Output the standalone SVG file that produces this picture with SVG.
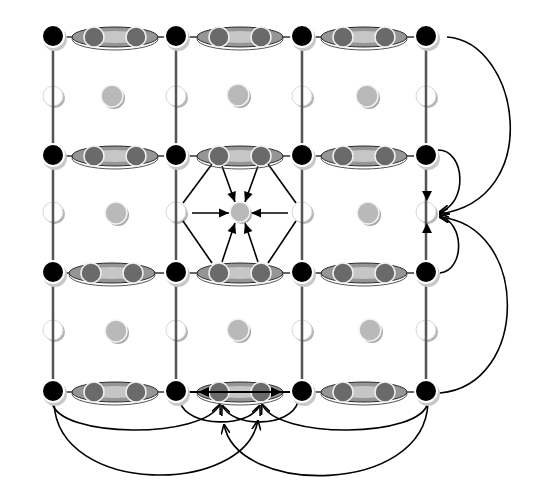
<svg xmlns="http://www.w3.org/2000/svg" width="544" height="487" viewBox="0 0 544 487">
<defs>
<style>
.sh{fill:#c8c8c8}
.blk{fill:#000;stroke:#fff;stroke-width:2}
.opn{fill:#fff;stroke:#d8d8d8;stroke-width:1}
.osh{fill:#b4b4b4}
.gry{fill:#b9b9b9;stroke:#f4f4f4;stroke-width:1.5}
.gsh{fill:#a9a9a9}
.inn{fill:#6a6a6a;stroke:#f0f0f0;stroke-width:1.5}
.ell{fill:#959595;stroke:#2a2a2a;stroke-width:1}
.ells{fill:none;stroke:#555;stroke-width:1}
.band{fill:#c6c6c6;stroke:none}
.col{stroke:#555;stroke-width:2.5;fill:none}
.row{stroke:#333;stroke-width:1.5;fill:none}
.arr{stroke:#000;stroke-width:1.6;fill:none}
</style>
<marker id="fa" viewBox="0 0 10 10" refX="10" refY="5" markerWidth="11" markerHeight="10" markerUnits="userSpaceOnUse" orient="auto"><path d="M0,0.5 L10,5 L0,9.5 z" fill="#000"/></marker>
<marker id="oa" viewBox="0 0 10 10" refX="10" refY="5" markerWidth="10" markerHeight="10" markerUnits="userSpaceOnUse" orient="auto"><path d="M0,0.5 L10,5 L0,9.5" fill="none" stroke="#000" stroke-width="1.6"/></marker>
</defs>
<rect width="544" height="487" fill="#fff"/>

<!-- open (white) circles -->
<g id="open-nodes">
<g id="o00"><circle class="osh" cx="55" cy="98" r="10"/><circle class="opn" cx="53" cy="96" r="10"/></g>
<g id="o01"><circle class="osh" cx="178" cy="98" r="10"/><circle class="opn" cx="176" cy="96" r="10"/></g>
<g id="o02"><circle class="osh" cx="304" cy="98" r="10"/><circle class="opn" cx="302" cy="96" r="10"/></g>
<g id="o03"><circle class="osh" cx="428" cy="98" r="10"/><circle class="opn" cx="426" cy="96" r="10"/></g>
<g id="o10"><circle class="osh" cx="55" cy="214" r="10"/><circle class="opn" cx="53" cy="212" r="10"/></g>
<g id="o11"><circle class="osh" cx="178" cy="214" r="10"/><circle class="opn" cx="176" cy="212" r="10"/></g>
<g id="o12"><circle class="osh" cx="304" cy="214" r="10"/><circle class="opn" cx="302" cy="212" r="10"/></g>
<g id="o13"><circle class="osh" cx="428" cy="214" r="10"/><circle class="opn" cx="426" cy="212" r="10"/></g>
<g id="o20"><circle class="osh" cx="55" cy="332" r="10"/><circle class="opn" cx="53" cy="330" r="10"/></g>
<g id="o21"><circle class="osh" cx="178" cy="332" r="10"/><circle class="opn" cx="176" cy="330" r="10"/></g>
<g id="o22"><circle class="osh" cx="304" cy="332" r="10"/><circle class="opn" cx="302" cy="330" r="10"/></g>
<g id="o23"><circle class="osh" cx="428" cy="332" r="10"/><circle class="opn" cx="426" cy="330" r="10"/></g>
</g>

<!-- connectors -->
<g id="connectors">
<g id="grid">
<line class="col" x1="53" y1="36" x2="53" y2="391"/>
<line class="col" x1="176" y1="36" x2="176" y2="391"/>
<line class="col" x1="302" y1="36" x2="302" y2="391"/>
<line class="col" x1="426" y1="36" x2="426" y2="391"/>
<line class="row" x1="53" y1="37" x2="426" y2="37"/>
<line class="row" x1="53" y1="156" x2="426" y2="156"/>
<line class="row" x1="53" y1="273" x2="426" y2="273"/>
<line class="row" x1="53" y1="392" x2="426" y2="392"/>
</g>
<g id="hexagon">
<line class="arr" x1="212" y1="164" x2="183" y2="203"/>
<line class="arr" x1="268" y1="164" x2="296" y2="203"/>
<line class="arr" x1="183" y1="221" x2="212" y2="263"/>
<line class="arr" x1="296" y1="221" x2="268" y2="263"/>
<line class="arr" x1="222" y1="166" x2="235" y2="202" marker-end="url(#fa)"/>
<line class="arr" x1="258" y1="166" x2="245" y2="202" marker-end="url(#fa)"/>
<line class="arr" x1="192" y1="213" x2="229" y2="213" marker-end="url(#fa)"/>
<line class="arr" x1="288" y1="213" x2="251" y2="213" marker-end="url(#fa)"/>
<line class="arr" x1="222" y1="262" x2="235" y2="223" marker-end="url(#fa)"/>
<line class="arr" x1="258" y1="262" x2="245" y2="223" marker-end="url(#fa)"/>
</g>
<g id="right-curves">
<path class="arr" d="M447,37 C520,42 545,200 439,214" marker-end="url(#oa)"/>
<path class="arr" d="M438,150 C466,150 468,205 439,212" marker-end="url(#oa)"/>
<path class="arr" d="M440,273 C465,270 465,222 439,216" marker-end="url(#oa)"/>
<path class="arr" d="M440,393 C530,385 530,225 439,217" marker-end="url(#oa)"/>
<polygon points="422,191 432,191 427,201" fill="#000"/>
<polygon points="422,233 432,233 427,223" fill="#000"/>
</g>
<g id="bottom-curves">
<path class="arr" d="M52,402 C58,439 205,439 220,404" marker-end="url(#oa)"/>
<path class="arr" d="M54,403 C58,496 245,496 258,420" marker-end="url(#oa)"/>
<path class="arr" d="M428,402 C422,439 276,439 262,404" marker-end="url(#oa)"/>
<path class="arr" d="M428,403 C424,496 236,496 224,424" marker-end="url(#oa)"/>
<path class="arr" d="M180,402 C188,428 250,428 260,405" marker-end="url(#oa)"/>
<path class="arr" d="M298,402 C290,428 232,428 222,405" marker-end="url(#oa)"/>
</g>
</g>

<!-- edge ellipses (bodies) -->
<g id="ellipses">
<g id="e00"><ellipse class="ells" cx="115" cy="39" rx="43" ry="11"/><ellipse class="ell" cx="115" cy="37" rx="43" ry="10"/><ellipse class="band" cx="115" cy="37" rx="30" ry="6"/></g>
<g id="e01"><ellipse class="ells" cx="240" cy="39" rx="43" ry="11"/><ellipse class="ell" cx="240" cy="37" rx="43" ry="10"/><ellipse class="band" cx="240" cy="37" rx="30" ry="6"/></g>
<g id="e02"><ellipse class="ells" cx="364" cy="39" rx="43" ry="11"/><ellipse class="ell" cx="364" cy="37" rx="43" ry="10"/><ellipse class="band" cx="364" cy="37" rx="30" ry="6"/></g>
<g id="e10"><ellipse class="ells" cx="115" cy="158" rx="43" ry="11"/><ellipse class="ell" cx="115" cy="156" rx="43" ry="10"/><ellipse class="band" cx="115" cy="156" rx="30" ry="6"/></g>
<g id="e11"><ellipse class="ells" cx="240" cy="158" rx="43" ry="11"/><ellipse class="ell" cx="240" cy="156" rx="43" ry="10"/><ellipse class="band" cx="240" cy="156" rx="30" ry="6"/></g>
<g id="e12"><ellipse class="ells" cx="364" cy="158" rx="43" ry="11"/><ellipse class="ell" cx="364" cy="156" rx="43" ry="10"/><ellipse class="band" cx="364" cy="156" rx="30" ry="6"/></g>
<g id="e20"><ellipse class="ells" cx="112" cy="275" rx="43" ry="11"/><ellipse class="ell" cx="112" cy="273" rx="43" ry="10"/><ellipse class="band" cx="112" cy="273" rx="30" ry="6"/></g>
<g id="e21"><ellipse class="ells" cx="240" cy="275" rx="43" ry="11"/><ellipse class="ell" cx="240" cy="273" rx="43" ry="10"/><ellipse class="band" cx="240" cy="273" rx="30" ry="6"/></g>
<g id="e22"><ellipse class="ells" cx="364" cy="275" rx="43" ry="11"/><ellipse class="ell" cx="364" cy="273" rx="43" ry="10"/><ellipse class="band" cx="364" cy="273" rx="30" ry="6"/></g>
<g id="e30"><ellipse class="ells" cx="115" cy="394" rx="43" ry="11"/><ellipse class="ell" cx="115" cy="392" rx="43" ry="10"/><ellipse class="band" cx="115" cy="392" rx="30" ry="6"/></g>
<g id="e31"><ellipse class="ells" cx="240" cy="394" rx="43" ry="11"/><ellipse class="ell" cx="240" cy="392" rx="43" ry="10"/><ellipse class="band" cx="240" cy="392" rx="30" ry="6"/></g>
<g id="e32"><ellipse class="ells" cx="364" cy="394" rx="43" ry="11"/><ellipse class="ell" cx="364" cy="392" rx="43" ry="10"/><ellipse class="band" cx="364" cy="392" rx="30" ry="6"/></g>
</g>

<!-- inner (edge) circles -->
<g id="edge-nodes">
<g id="i00a"><circle class="inn" cx="94" cy="37" r="10"/></g><g id="i00b"><circle class="inn" cx="136" cy="37" r="10"/></g>
<g id="i01a"><circle class="inn" cx="219" cy="37" r="10"/></g><g id="i01b"><circle class="inn" cx="261" cy="37" r="10"/></g>
<g id="i02a"><circle class="inn" cx="343" cy="37" r="10"/></g><g id="i02b"><circle class="inn" cx="385" cy="37" r="10"/></g>
<g id="i10a"><circle class="inn" cx="94" cy="156" r="10"/></g><g id="i10b"><circle class="inn" cx="136" cy="156" r="10"/></g>
<g id="i11a"><circle class="inn" cx="219" cy="156" r="10"/></g><g id="i11b"><circle class="inn" cx="261" cy="156" r="10"/></g>
<g id="i12a"><circle class="inn" cx="343" cy="156" r="10"/></g><g id="i12b"><circle class="inn" cx="385" cy="156" r="10"/></g>
<g id="i20a"><circle class="inn" cx="91" cy="273" r="10"/></g><g id="i20b"><circle class="inn" cx="133" cy="273" r="10"/></g>
<g id="i21a"><circle class="inn" cx="219" cy="273" r="10"/></g><g id="i21b"><circle class="inn" cx="261" cy="273" r="10"/></g>
<g id="i22a"><circle class="inn" cx="343" cy="273" r="10"/></g><g id="i22b"><circle class="inn" cx="385" cy="273" r="10"/></g>
<g id="i30a"><circle class="inn" cx="94" cy="392" r="10"/></g><g id="i30b"><circle class="inn" cx="136" cy="392" r="10"/></g>
<g id="i31a"><circle class="inn" cx="219" cy="392" r="10"/></g><g id="i31b"><circle class="inn" cx="261" cy="392" r="10"/></g>
<g id="i32a"><circle class="inn" cx="343" cy="392" r="10"/></g><g id="i32b"><circle class="inn" cx="385" cy="392" r="10"/></g>
</g>

<!-- double-headed edge arrow on bottom row, cell 2 -->
<g id="bottom-edge-arrow">
<line stroke="#000" stroke-width="2.2" x1="186" y1="392" x2="292" y2="392"/>
<polygon points="198,392 209,387 209,397" fill="#000"/>
<polygon points="282,392 271,387 271,397" fill="#000"/>
</g>

<!-- black vertex nodes -->
<g id="vertex-nodes">
<g id="v00"><circle class="sh" cx="55" cy="39" r="12"/><circle class="blk" cx="53" cy="36" r="11"/></g>
<g id="v01"><circle class="sh" cx="178" cy="39" r="12"/><circle class="blk" cx="176" cy="36" r="11"/></g>
<g id="v02"><circle class="sh" cx="304" cy="39" r="12"/><circle class="blk" cx="302" cy="36" r="11"/></g>
<g id="v03"><circle class="sh" cx="428" cy="39" r="12"/><circle class="blk" cx="426" cy="36" r="11"/></g>
<g id="v10"><circle class="sh" cx="55" cy="158" r="12"/><circle class="blk" cx="53" cy="155" r="11"/></g>
<g id="v11"><circle class="sh" cx="178" cy="158" r="12"/><circle class="blk" cx="176" cy="155" r="11"/></g>
<g id="v12"><circle class="sh" cx="304" cy="158" r="12"/><circle class="blk" cx="302" cy="155" r="11"/></g>
<g id="v13"><circle class="sh" cx="428" cy="158" r="12"/><circle class="blk" cx="426" cy="155" r="11"/></g>
<g id="v20"><circle class="sh" cx="55" cy="275" r="12"/><circle class="blk" cx="53" cy="272" r="11"/></g>
<g id="v21"><circle class="sh" cx="178" cy="275" r="12"/><circle class="blk" cx="176" cy="272" r="11"/></g>
<g id="v22"><circle class="sh" cx="304" cy="275" r="12"/><circle class="blk" cx="302" cy="272" r="11"/></g>
<g id="v23"><circle class="sh" cx="428" cy="275" r="12"/><circle class="blk" cx="426" cy="272" r="11"/></g>
<g id="v30"><circle class="sh" cx="55" cy="394" r="12"/><circle class="blk" cx="53" cy="391" r="11"/></g>
<g id="v31"><circle class="sh" cx="178" cy="394" r="12"/><circle class="blk" cx="176" cy="391" r="11"/></g>
<g id="v32"><circle class="sh" cx="304" cy="394" r="12"/><circle class="blk" cx="302" cy="391" r="11"/></g>
<g id="v33"><circle class="sh" cx="428" cy="394" r="12"/><circle class="blk" cx="426" cy="391" r="11"/></g>
</g>

<!-- gray cell-centre nodes -->
<g id="cell-nodes">
<g id="g00"><circle class="gsh" cx="114" cy="98" r="11"/><circle class="gry" cx="112" cy="96" r="11"/></g>
<g id="g01"><circle class="gsh" cx="240" cy="97" r="11"/><circle class="gry" cx="238" cy="95" r="11"/></g>
<g id="g02"><circle class="gsh" cx="369" cy="98" r="11"/><circle class="gry" cx="367" cy="96" r="11"/></g>
<g id="g10"><circle class="gsh" cx="118" cy="215" r="11"/><circle class="gry" cx="116" cy="213" r="11"/></g>
<g id="g11"><circle class="gsh" cx="242" cy="214" r="10"/><circle class="gry" cx="240" cy="212" r="10"/></g>
<g id="g12"><circle class="gsh" cx="370" cy="215" r="11"/><circle class="gry" cx="368" cy="213" r="11"/></g>
<g id="g20"><circle class="gsh" cx="118" cy="333" r="11"/><circle class="gry" cx="116" cy="331" r="11"/></g>
<g id="g21"><circle class="gsh" cx="240" cy="332" r="11"/><circle class="gry" cx="238" cy="330" r="11"/></g>
<g id="g22"><circle class="gsh" cx="372" cy="332" r="11"/><circle class="gry" cx="370" cy="330" r="11"/></g>
</g>
</svg>
